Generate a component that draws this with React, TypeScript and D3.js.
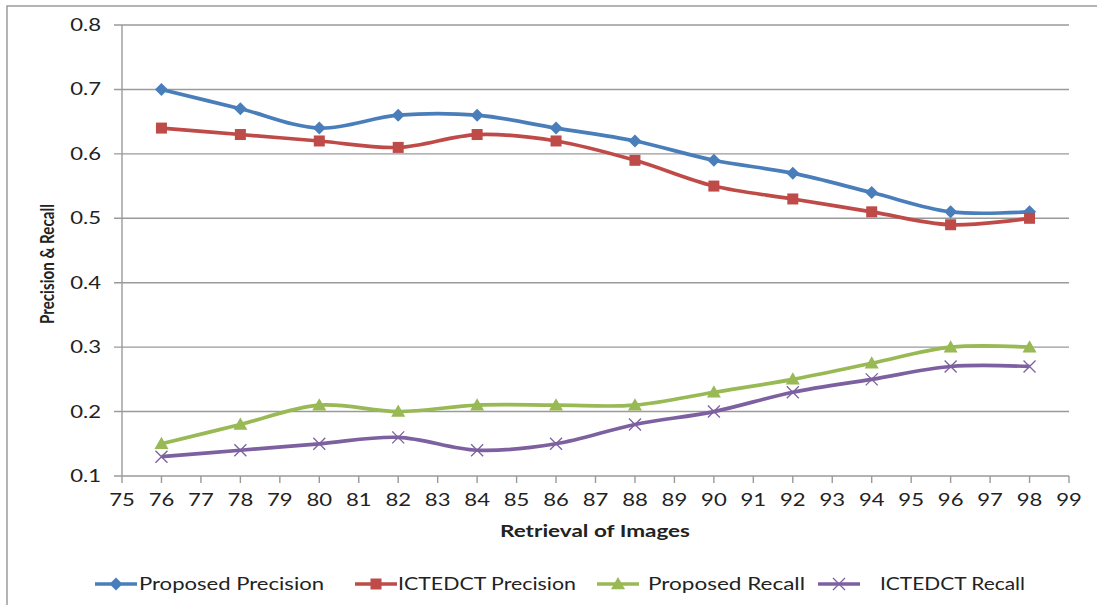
import React from "react";
import * as d3 from "d3";

const xValues = [76, 78, 80, 82, 84, 86, 88, 90, 92, 94, 96, 98];
const proposedPrecision = [0.70, 0.67, 0.64, 0.66, 0.66, 0.64, 0.62, 0.59, 0.57, 0.54, 0.51, 0.51];
const ictedctPrecision = [0.64, 0.63, 0.62, 0.61, 0.63, 0.62, 0.59, 0.55, 0.53, 0.51, 0.49, 0.50];
const proposedRecall = [0.15, 0.18, 0.21, 0.20, 0.21, 0.21, 0.21, 0.23, 0.25, 0.275, 0.30, 0.30];
const ictedctRecall = [0.13, 0.14, 0.15, 0.16, 0.14, 0.15, 0.18, 0.20, 0.23, 0.25, 0.27, 0.27];
const xTicks = d3.range(75, 100);
const yTicks = [0.1, 0.2, 0.3, 0.4, 0.5, 0.6, 0.7, 0.8];
const seriesNames = ["Proposed Precision", "ICTEDCT Precision", "Proposed Recall", "ICTEDCT Recall"];
const seriesValues = [proposedPrecision, ictedctPrecision, proposedRecall, ictedctRecall];
const seriesColors = ["#4A7EBB", "#BE4B48", "#98B954", "#7D60A0"];
const seriesMarkers = ["diamond", "square", "triangle", "x"];

const W = 1097, H = 605;
const plot = { left: 122, right: 1069, top: 25, bottom: 476 };
const FONT = "Lato, 'Open Sans', sans-serif";

function Marker({ type, x, y, color }: { type: string; x: number; y: number; color: string }) {
  if (type === "diamond") {
    const s = 6.5;
    return <path d={`M${x},${y - s}L${x + s},${y}L${x},${y + s}L${x - s},${y}Z`} fill={color} />;
  }
  if (type === "square") {
    const s = 5.5;
    return <rect x={x - s} y={y - s} width={2 * s} height={2 * s} fill={color} />;
  }
  if (type === "triangle") {
    const s = 7;
    return <path d={`M${x},${y - s}L${x + s},${y + s * 0.75}L${x - s},${y + s * 0.75}Z`} fill={color} />;
  }
  const s = 6;
  return (
    <path d={`M${x - s},${y - s}L${x + s},${y + s}M${x - s},${y + s}L${x + s},${y - s}`} stroke={color} strokeWidth={1.3} fill="none" />
  );
}

function SText({ x, y, sx = 1.3, children, ...rest }: any) {
  return (
    <text transform={`translate(${x},${y}) scale(${sx},1)`} {...rest}>
      {children}
    </text>
  );
}

export default function App() {
  const xScale = d3.scaleLinear().domain([75, 99]).range([plot.left, plot.right]);
  const yScale = d3.scaleLinear().domain([0.1, 0.8]).range([plot.bottom, plot.top]);
  const line = d3
    .line<number>()
    .x((_, i) => xScale(xValues[i]))
    .y((d) => yScale(d))
    .curve(d3.curveCatmullRom.alpha(0.5));

  const legendItems = [
    { lx: 95, tx: 139, tw: 185 },
    { lx: 355, tx: 398, tw: 178 },
    { lx: 597, tx: 648, tw: 157 },
    { lx: 818, tx: 880, tw: 145 },
  ];
  const legendY = 584;

  return (
    <svg width={W} height={H} style={{ position: "absolute", left: 0, top: 0, background: "#fff" }} fontFamily={FONT}>
      <rect x={7} y={6} width={W + 20} height={H + 20} fill="#fff" stroke="#8c8c8c" strokeWidth={1.3} />
      {yTicks.map((t) => (
        <line key={t} x1={plot.left - 8} x2={plot.right} y1={yScale(t)} y2={yScale(t)} stroke="#9a9a9a" strokeWidth={1.4} />
      ))}
      <line x1={plot.left} x2={plot.left} y1={plot.top} y2={plot.bottom} stroke="#9a9a9a" strokeWidth={1.4} />
      {xTicks.map((t) => (
        <line key={t} x1={xScale(t)} x2={xScale(t)} y1={plot.bottom} y2={plot.bottom + 7} stroke="#9a9a9a" strokeWidth={1.4} />
      ))}
      {yTicks.map((t) => (
        <SText key={t} x={101} y={yScale(t) + 6} textAnchor="end" fontSize={17} fill="#222">
          {d3.format(".1f")(t)}
        </SText>
      ))}
      {xTicks.map((t) => (
        <SText key={t} x={xScale(t)} y={506} textAnchor="middle" fontSize={17} fill="#222">
          {t}
        </SText>
      ))}
      <text x={595} y={537} textAnchor="middle" fontSize={17} fontWeight="bold" fill="#222" textLength={190} lengthAdjust="spacingAndGlyphs">
        Retrieval of Images
      </text>
      <text
        transform={`translate(54,264) rotate(-90)`}
        textAnchor="middle"
        fontSize={18}
        fontWeight="bold"
        fill="#222"
        textLength={120}
        lengthAdjust="spacingAndGlyphs"
      >
        Precision &amp; Recall
      </text>
      {seriesValues.map((vals, si) => (
        <g key={si}>
          <path d={line(vals) || ""} fill="none" stroke={seriesColors[si]} strokeWidth={3.7} strokeLinejoin="round" />
          {vals.map((v, i) => (
            <Marker key={i} type={seriesMarkers[si]} x={xScale(xValues[i])} y={yScale(v)} color={seriesColors[si]} />
          ))}
        </g>
      ))}
      {seriesNames.map((name, si) => {
        const it = legendItems[si];
        return (
          <g key={name}>
            <line x1={it.lx} x2={it.lx + 42} y1={legendY} y2={legendY} stroke={seriesColors[si]} strokeWidth={3.7} />
            <Marker type={seriesMarkers[si]} x={it.lx + 21} y={legendY} color={seriesColors[si]} />
            <text x={it.tx} y={legendY + 6} fontSize={17} fill="#222" textLength={it.tw} lengthAdjust="spacingAndGlyphs">
              {name}
            </text>
          </g>
        );
      })}
    </svg>
  );
}
